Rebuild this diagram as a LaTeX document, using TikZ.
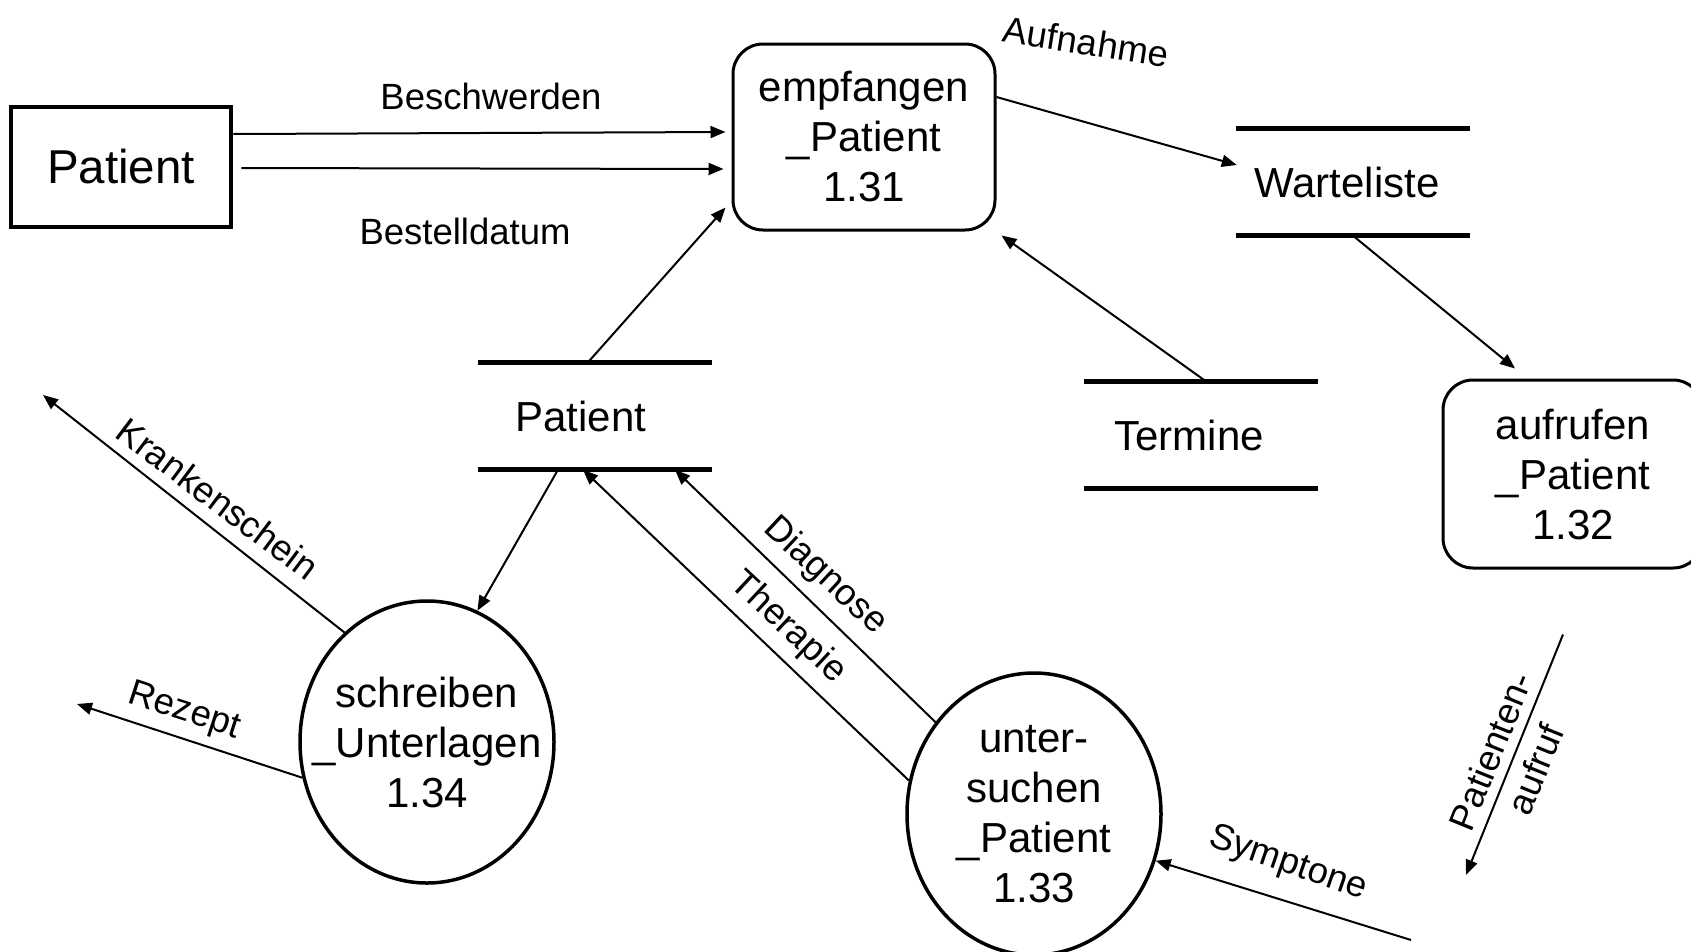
\documentclass[tikz,border=0pt]{standalone}
\usepackage{fontspec}
\setmainfont{Liberation Sans}
\usetikzlibrary{shapes.geometric,arrows.meta}

\begin{document}
\begin{tikzpicture}[
	x=1pt, y=-1pt,
	% 外部实体
	entity/.style={draw, line width=4.5pt, minimum width=220pt, minimum height=120pt,
			font=\fontsize{47.5}{56}\selectfont},
	% 过程
	proc/.style={align=center, font=\fontsize{42}{50}\selectfont},
	procbox/.style={proc, draw, line width=3pt, rounded corners=30pt, inner sep=0pt,
			minimum width=262pt, minimum height=186pt},
	procell/.style={draw, ellipse, line width=3.5pt, inner sep=0pt,
			minimum width=254pt, minimum height=282pt},
	% 数据存储
	store/.style={minimum width=234pt, minimum height=107pt, inner sep=0pt},
	storeline/.style={line width=4.5pt},
	% 数据流
	flow/.style={line width=2pt, -{Triangle[length=15pt,width=12pt]}},
	lbl/.style={font=\fontsize{36.5}{42}\selectfont, inner sep=0pt, align=center}
]
	\useasboundingbox (0,0) rectangle (1691,951);

	%% 节点
	\node[entity] (patient) at (121,167) {Patient};
	\node[procbox] (empfangen) at (864,137) {empfangen\\\_Patient\\1.31};
	\node[procbox, minimum width=260pt, minimum height=188pt] (aufrufen) at (1573,474) {aufrufen\\\_Patient\\1.32};
	\node[procell, label={[proc]center:{schreiben\\\_Unterlagen\\1.34}}] (schreiben) at (427,742) {};
	\node[procell, label={[proc]center:{unter-\\suchen\\\_Patient\\1.33}}] (unters) at (1034,814) {};

	% 数据存储
	\node[store, label={[proc,xshift=-6pt]center:Warteliste}] (warte) at (1353,182) {};
	\node[store, label={[proc,xshift=-14pt]center:Patient}] (pstore) at (595,416) {};
	\node[store, label={[proc,xshift=-12pt]center:Termine}] (termine) at (1201,435) {};
	\foreach \s in {warte,pstore,termine}{
			\draw[storeline] (\s.north west) -- (\s.north east)
			(\s.south west) -- (\s.south east);
		}

	% 自由端
	\coordinate (kschein) at (43,395);
	\coordinate (rezept) at (77,704);
	\coordinate (sympt) at (1411,940);
	\coordinate (paufruf) at (1466,875);

	%% 数据流连线
	\draw[flow] ([yshift=33pt]patient.east) -- ([xshift=-6pt,yshift=5pt]empfangen.west);
	\draw[flow] ([xshift=8pt,yshift=-1pt]patient.east) -- ([xshift=-8pt,yshift=-32pt]empfangen.west);
	\draw[flow] ([xshift=-7pt]pstore.north) -- ([xshift=-6pt,yshift=24pt]empfangen.south west);
	\draw[flow] ([yshift=40pt]empfangen.east) -- ([xshift=1pt,yshift=17pt]warte.west);
	\draw[flow] (warte.south) -- ([xshift=-58pt,yshift=10pt]aufrufen.north);
	\draw[flow] ([xshift=5pt]termine.north) -- ([xshift=5pt,yshift=-4pt]empfangen.south east);
	\draw[flow] ([xshift=-37pt]pstore.south) -- (schreiben.69);
	\draw[flow] (schreiben.127) -- (kschein);
	\draw[flow] (schreiben.196) -- (rezept);
	\draw[flow] (unters.137) -- ([xshift=80pt]pstore.south);
	\draw[flow] (unters.165) -- ([xshift=-12pt]pstore.south);
	\draw[flow] (sympt) -- (unters.-21);
	\draw[flow] ([xshift=-10pt,yshift=-65pt]aufrufen.south) -- (paufruf);

	%% 标签
	\node[lbl] (l-beschw) at (491,96) {Beschwerden};
	\node[lbl] (l-bestell) at (465,231) {Bestelldatum};
	\node[lbl, rotate=-9] (l-aufn) at (1086,42) {Aufnahme};
	\node[lbl, rotate=-37] (l-krank) at (218,499) {Krankenschein};
	\node[lbl, rotate=-18] (l-rezept) at (184,712) {Rezept};
	\node[lbl, rotate=-43] (l-diag) at (825,576) {Diagnose};
	\node[lbl, rotate=-43] (l-ther) at (788,628) {Therapie};
	\node[lbl, rotate=-19] (l-sympt) at (1288,864) {Symptone};
	\node[lbl, rotate=68, font=\fontsize{36.5}{48}\selectfont] (l-paufruf) at (1513,760) {Patienten-\\aufruf};
\end{tikzpicture}
\end{document}
